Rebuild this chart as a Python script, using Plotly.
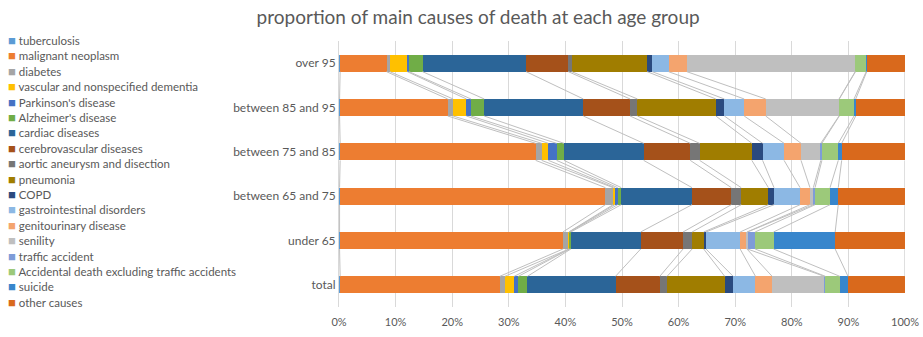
import numpy as np
import plotly.graph_objects as go

# ---------------- data ----------------
age_groups = ["total", "under 65", "between 65 and 75", "between 75 and 85",
              "between 85 and 95", "over 95"]

causes = ["tuberculosis", "malignant neoplasm", "diabetes",
          "vascular and nonspecified dementia", "Parkinson's disease",
          "Alzheimer's disease", "cardiac diseases", "cerebrovascular diseases",
          "aortic aneurysm and disection", "pneumonia", "COPD",
          "gastrointestinal disorders", "genitourinary disease", "senility",
          "traffic accident", "Accidental death excluding traffic accidents",
          "suicide", "other causes"]

# percent values per cause, order follows age_groups
tuberculosis = [0.2, 0.1, 0.1, 0.2, 0.1, 0.2]
malignant_neoplasm = [28.3, 39.5, 47.0, 34.6, 19.1, 8.25]
diabetes = [0.9, 1.05, 1.35, 1.05, 0.95, 0.6]
dementia = [1.65, 0.05, 0.3, 1.2, 2.35, 3.1]
parkinsons = [0.75, 0.1, 0.5, 1.45, 0.8, 0.3]
alzheimers = [1.6, 0.2, 0.65, 1.3, 2.35, 2.4]
cardiac = [15.6, 12.35, 12.5, 14.1, 17.5, 18.4]
cerebrovascular = [7.85, 7.5, 6.95, 8.25, 8.25, 7.5]
aortic = [1.3, 1.6, 1.75, 1.65, 1.3, 0.6]
pneumonia = [10.2, 2.05, 4.8, 9.25, 13.85, 13.4]
copd = [1.5, 0.4, 1.0, 1.9, 1.5, 0.9]
gastrointestinal = [3.95, 6.05, 4.6, 3.8, 3.5, 2.9]
genitourinary = [2.95, 1.2, 1.75, 3.0, 3.8, 3.25]
senility = [9.25, 0.1, 0.6, 3.5, 12.95, 29.9]
traffic = [0.2, 1.35, 0.3, 0.2, 0.05, 0.05]
accidental = [2.55, 3.25, 2.65, 2.9, 2.6, 1.9]
suicide = [1.45, 10.9, 1.45, 0.6, 0.3, 0.1]
other = [10.1, 12.35, 11.8, 11.2, 8.7, 6.8]

series = [tuberculosis, malignant_neoplasm, diabetes, dementia, parkinsons,
          alzheimers, cardiac, cerebrovascular, aortic, pneumonia, copd,
          gastrointestinal, genitourinary, senility, traffic, accidental,
          suicide, other]

colors = ["#5B9BD5", "#ED7D31", "#A5A5A5", "#FFC000", "#4472C4", "#70AD47",
          "#2B6598", "#A5511A", "#767676", "#A07D00", "#2A4A7F", "#8CB8E4",
          "#F4A46E", "#BFBFBF", "#7E9CD8", "#9CC97A", "#3886CC", "#D9691C"]

tick_vals = [0, 10, 20, 30, 40, 50, 60, 70, 80, 90, 100]
tick_text = [f"{v}%" for v in tick_vals]

# ---------------- figure ----------------
FONT = "Lato, Calibri, Carlito, sans-serif"
TXT = "#595959"
BAR_W = 0.385

ypos = list(range(len(age_groups)))
fig = go.Figure()

for name, vals, col in zip(causes, series, colors):
    fig.add_trace(go.Bar(
        y=ypos, x=vals, name=name, orientation="h", width=BAR_W,
        marker=dict(color=col, line=dict(width=0)), showlegend=False,
        hovertemplate=name + ": %{x:.1f}%<extra></extra>"))

# series lines (cumulative boundaries between adjacent bars)
arr = np.array(series, dtype=float)
pct = arr / arr.sum(axis=0) * 100
cum = np.cumsum(pct, axis=0)
h = BAR_W / 2
for k in range(cum.shape[0]):
    xs, ys = [], []
    for i in range(len(age_groups) - 1):
        xs += [cum[k, i], cum[k, i + 1], None]
        ys += [ypos[i] + h, ypos[i + 1] - h, None]
    fig.add_trace(go.Scatter(x=xs, y=ys, mode="lines", showlegend=False,
                             hoverinfo="skip",
                             line=dict(color="#BFBFBF", width=1)))

# manual compact legend (Excel style)
L_TOP, L_STEP = 1.004, 15.4 / 266
for i, (name, col) in enumerate(zip(causes, colors)):
    fig.add_annotation(
        xref="paper", yref="paper", x=-0.588, y=L_TOP - i * L_STEP,
        xanchor="left", yanchor="middle", showarrow=False,
        text=f"<span style='color:{col};font-size:13px'>■</span> {name}",
        font=dict(family=FONT, size=11.5, color=TXT))

fig.update_layout(
    barmode="stack", barnorm="percent",
    width=923, height=337,
    margin=dict(l=339, r=18, t=41, b=30),
    paper_bgcolor="white", plot_bgcolor="white",
    font=dict(family=FONT, size=12, color=TXT),
    title=dict(text="proportion of main causes of death at each age group",
               x=0.518, xanchor="center", y=0.95, yanchor="middle",
               font=dict(family=FONT, size=19, color=TXT)),
    xaxis=dict(range=[0, 100], tickvals=tick_vals, ticktext=tick_text,
               showgrid=True, gridcolor="#D9D9D9", gridwidth=1,
               zeroline=False, showline=False, automargin=False,
               ticklabelstandoff=7,
               tickfont=dict(size=11, color=TXT)),
    yaxis=dict(range=[-0.5, 5.5], tickvals=ypos, ticktext=age_groups,
               showgrid=False, zeroline=False, showline=True,
               linecolor="#D9D9D9", linewidth=1, ticks="", automargin=False,
               tickfont=dict(size=12, color=TXT)),
)

fig.write_html("out.html")
